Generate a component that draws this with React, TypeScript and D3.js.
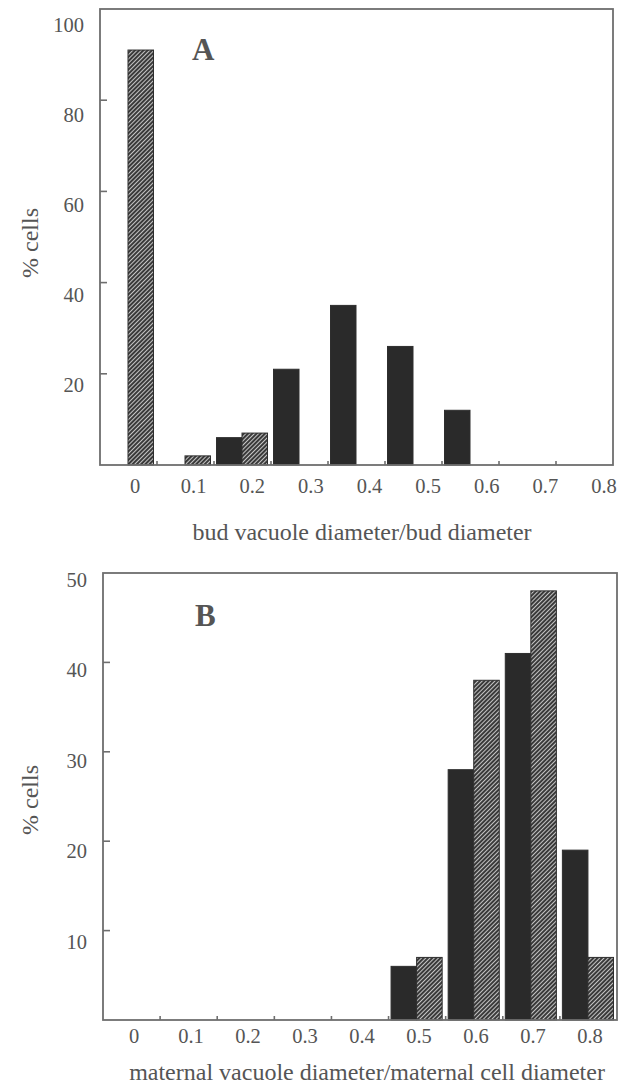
import React from "react";
import * as d3 from "d3";

const categories = ["0", "0.1", "0.2", "0.3", "0.4", "0.5", "0.6", "0.7", "0.8"];
const series = ["solid", "hatched"];

// Panel A: bud vacuole diameter / bud diameter
const budSolid = [0, 0, 6, 21, 35, 26, 12, 0, 0];
const budHatched = [91, 2, 7, 0, 0, 0, 0, 0, 0];
const budTicks = [20, 40, 60, 80];
const budLabels = [20, 40, 60, 80, 100];

// Panel B: maternal vacuole diameter / maternal cell diameter
const matSolid = [0, 0, 0, 0, 0, 6, 28, 41, 19];
const matHatched = [0, 0, 0, 0, 0, 7, 38, 48, 7];
const matTicks = [10, 20, 30, 40];
const matLabels = [10, 20, 30, 40, 50];

const FONT = "'Liberation Serif', 'DejaVu Serif', serif";
const INK = "#555";
const FRAME = "#6e6e6e";
const SOLID = "#2a2a2a";

type PanelProps = {
  letter: string;
  title: string;
  solid: number[];
  hatched: number[];
  ticks: number[];
  labels: number[];
  yMax: number;
  left: number;
  top: number;
  right: number;
  bottom: number;
  labelTop: number;
  labelBottom: number;
  xLabelLeft: number;
  xLabelRight: number;
  xLabelY: number;
  titleY: number;
  titleX: number;
  yTitleY: number;
  letterX: number;
  letterY: number;
};

function Panel(p: PanelProps) {
  const x = d3.scaleBand<string>().domain(categories).range([p.left, p.right]).padding(0);
  const inner = d3
    .scaleBand<string>()
    .domain(series)
    .range([2.5, x.bandwidth() - 3.5])
    .padding(0);
  const y = d3.scaleLinear().domain([0, p.yMax]).range([p.bottom, p.top]);
  const yLab = d3.scaleLinear().domain([0, p.yMax]).range([p.labelBottom, p.labelTop]);
  const xLab = d3
    .scaleLinear()
    .domain([0, categories.length - 1])
    .range([p.xLabelLeft, p.xLabelRight]);

  const bars: { cat: string; s: string; v: number }[] = [];
  categories.forEach((c, i) => {
    bars.push({ cat: c, s: "solid", v: p.solid[i] });
    bars.push({ cat: c, s: "hatched", v: p.hatched[i] });
  });

  const boundaries = categories.slice(1).map((c) => x(c) as number);

  return (
    <g>
      {bars
        .filter((b) => b.v > 0)
        .map((b, i) => {
          const bx = (x(b.cat) as number) + (inner(b.s) as number);
          return (
            <rect
              key={i}
              x={bx}
              y={y(b.v)}
              width={inner.bandwidth()}
              height={y(0) - y(b.v)}
              fill={b.s === "solid" ? SOLID : "url(#hatch)"}
              stroke="#2e2e2e"
              strokeWidth={1}
            />
          );
        })}
      <rect
        x={p.left}
        y={p.top}
        width={p.right - p.left}
        height={p.bottom - p.top}
        fill="none"
        stroke={FRAME}
        strokeWidth={1.8}
      />
      {p.ticks.map((t) => (
        <line key={"yt" + t} x1={p.left} x2={p.left + 7} y1={y(t)} y2={y(t)} stroke={FRAME} strokeWidth={1.6} />
      ))}
      {boundaries.map((bx, i) => (
        <line key={"xt" + i} x1={bx} x2={bx} y1={p.bottom} y2={p.bottom - 4} stroke={FRAME} strokeWidth={1.6} />
      ))}
      {p.labels.map((t) => (
        <text
          key={"yl" + t}
          x={p.left - 16}
          y={yLab(t)}
          textAnchor="end"
          dominantBaseline="central"
          fontFamily={FONT}
          fontSize={20.5}
          fill={INK}
        >
          {t}
        </text>
      ))}
      {categories.map((c, i) => (
        <text
          key={"xl" + c}
          x={xLab(i)}
          y={p.xLabelY}
          textAnchor="middle"
          dominantBaseline="central"
          fontFamily={FONT}
          fontSize={20.5}
          fill={INK}
        >
          {c}
        </text>
      ))}
      <text
        x={p.titleX}
        y={p.titleY}
        textAnchor="middle"
        dominantBaseline="central"
        fontFamily={FONT}
        fontSize={24}
        fill={INK}
      >
        {p.title}
      </text>
      <text
        transform={`translate(30,${p.yTitleY}) rotate(-90)`}
        textAnchor="middle"
        dominantBaseline="central"
        fontFamily={FONT}
        fontSize={24}
        fill={INK}
      >
        % cells
      </text>
      <text
        x={p.letterX}
        y={p.letterY}
        fontFamily={FONT}
        fontWeight="bold"
        fontSize={31}
        fill={INK}
      >
        {p.letter}
      </text>
    </g>
  );
}

export default function App() {
  return (
    <svg
      width={631}
      height={1089}
      viewBox="0 0 631 1089"
      style={{ position: "absolute", left: 0, top: 0, background: "#fff" }}
    >
      <defs>
        <pattern id="hatch" width={3} height={3} patternUnits="userSpaceOnUse" patternTransform="rotate(45)">
          <rect width={3} height={3} fill="#3a3a3a" />
          <line x1={0.5} y1={0} x2={0.5} y2={3} stroke="#d4d4d4" strokeWidth={0.9} />
        </pattern>
      </defs>
      <Panel
        letter="A"
        title="bud vacuole diameter/bud diameter"
        solid={budSolid}
        hatched={budHatched}
        ticks={budTicks}
        labels={budLabels}
        yMax={100}
        left={100}
        top={9}
        right={613}
        bottom={465}
        labelTop={25}
        labelBottom={475}
        xLabelLeft={135}
        xLabelRight={604}
        xLabelY={486}
        titleX={362}
        titleY={532}
        yTitleY={243}
        letterX={192}
        letterY={60}
      />
      <Panel
        letter="B"
        title="maternal vacuole diameter/maternal cell diameter"
        solid={matSolid}
        hatched={matHatched}
        ticks={matTicks}
        labels={matLabels}
        yMax={50}
        left={103}
        top={573}
        right={617}
        bottom={1020}
        labelTop={580}
        labelBottom={1032}
        xLabelLeft={134}
        xLabelRight={590}
        xLabelY={1036}
        titleX={367}
        titleY={1072}
        yTitleY={800}
        letterX={195}
        letterY={626}
      />
    </svg>
  );
}
